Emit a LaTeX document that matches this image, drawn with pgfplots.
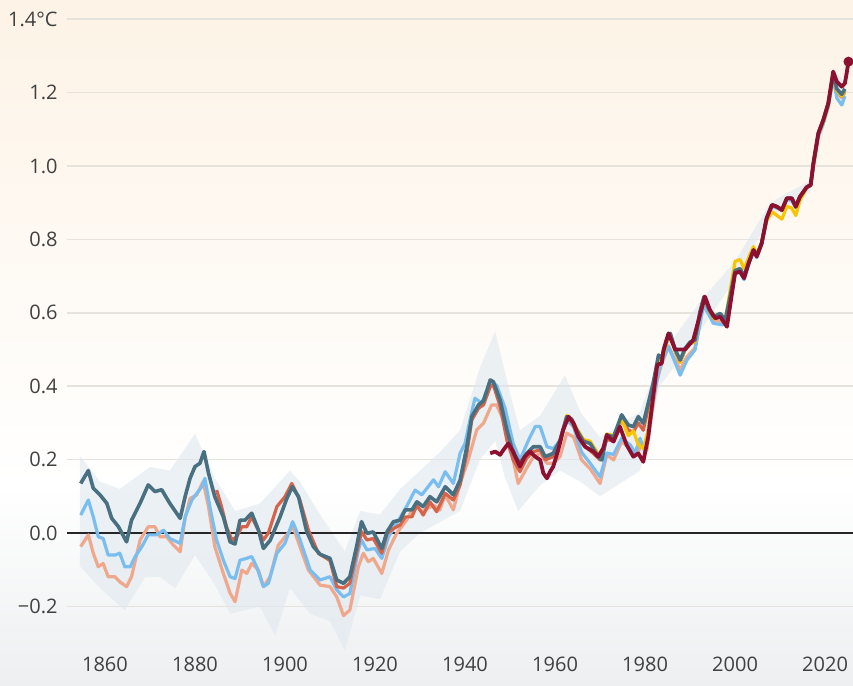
\documentclass[border=0pt]{standalone}
\usepackage{fontspec}
\setmainfont{Open Sans}
\usepackage{pgfplots}
\pgfplotsset{compat=1.18}
\definecolor{bgtop}{HTML}{FDF3E6}
\definecolor{bgbot}{HTML}{EDEFF0}
\definecolor{gridcol}{HTML}{E6E2DC}
\definecolor{textcol}{HTML}{404040}
\definecolor{tealc}{HTML}{487080}
\definecolor{lblue}{HTML}{7ABEF0}
\definecolor{salmon}{HTML}{F0A88C}
\definecolor{redor}{HTML}{D6644B}
\definecolor{yel}{HTML}{FAC400}
\definecolor{dred}{HTML}{8C1030}
\definecolor{band}{HTML}{DFE8EF}
\begin{document}
\begin{tikzpicture}
\useasboundingbox (0,0) rectangle (426.5pt,343pt);
\shade[top color=bgtop, bottom color=white] (0,100pt) rectangle (426.5pt,343pt);
\shade[top color=white, bottom color=bgbot] (0,0) rectangle (426.5pt,100.2pt);
\begin{axis}[
  at={(33.5pt,20.5pt)}, anchor=south west,
  width=393pt, height=322.5pt, scale only axis,
  xmin=1851.56, xmax=2026.2, ymin=-0.305, ymax=1.452,
  axis line style={draw=none}, major tick length=0pt,
  clip=false,
  xtick={1860,1880,1900,1920,1940,1960,1980,2000,2020},
  xticklabels={1860,1880,1900,1920,1940,1960,1980,2000,2020},
  ytick={-0.2,0,0.2,0.4,0.6,0.8,1.0,1.2,1.4},
  yticklabels={−0.2,0.0,0.2,0.4,0.6,0.8,1.0,1.2,1.4°C},
  ymajorgrids, grid style={gridcol, line width=0.75pt},
  tick label style={font=\fontsize{10}{12}\selectfont, text=textcol},
  yticklabel style={anchor=east, inner sep=0pt, xshift=-4.5pt},
  xticklabel style={anchor=north, inner sep=0pt, yshift=-6pt},
]
% uncertainty band (upper edge, then lower edge reversed)
\addplot[fill=band, fill opacity=0.6, draw=none] coordinates {(1854.4,0.21)(1858.9,0.14)(1863.3,0.12)(1870,0.18)(1874.4,0.17)(1880,0.27)(1884.4,0.15)(1888.9,0.06)(1894.4,0.08)(1901.1,0.17)(1903.3,0.14)(1907.8,0.05)(1913.3,-0.05)(1916.7,0.06)(1921.1,0.05)(1925.6,0.12)(1930,0.17)(1934.4,0.22)(1938.9,0.28)(1943.3,0.45)(1946.7,0.55)(1950,0.38)(1952.2,0.28)(1956.7,0.32)(1962.2,0.43)(1965.6,0.33)(1970,0.26)(1978.9,0.33)(1983.3,0.48)(1992.2,0.63)(2000,0.74)(2007.8,0.9)(2016.7,0.96)(2021.8,1.26)(2024.4,1.23)
(2024.4,1.16)(2021.8,1.22)(2016.7,0.93)(2007.8,0.86)(2000,0.69)(1992.2,0.55)(1983.3,0.4)(1978.9,0.17)(1970,0.1)(1965.6,0.14)(1961.1,0.17)(1956.7,0.13)(1951.8,0.06)(1948.9,0.15)(1946.7,0.25)(1943.3,0.2)(1938.9,0.06)(1934.4,0.03)(1930,0.0)(1925.6,-0.05)(1921.1,-0.18)(1916.7,-0.17)(1913.3,-0.32)(1910,-0.24)(1905.6,-0.22)(1901.1,-0.15)(1897.8,-0.28)(1894.4,-0.2)(1887.8,-0.22)(1884.4,-0.14)(1880,-0.06)(1875.6,-0.15)(1872.2,-0.12)(1868.9,-0.12)(1864.4,-0.21)(1858.9,-0.15)(1854.4,-0.09)} -- cycle;
% zero line
\addplot[black!85, line width=0.6pt] coordinates {(1851.56,0)(2026.2,0)};
% salmon
\addplot[salmon, line width=1.6pt, line join=round] coordinates {(1854.6,-0.037)(1856.3,-0.005)(1857.4,-0.055)(1858.5,-0.092)(1859.6,-0.083)(1860.7,-0.119)(1862.2,-0.119)(1863.3,-0.133)(1864.8,-0.146)(1865.9,-0.119)(1867.8,-0.019)(1869.6,0.017)(1871.1,0.017)(1872.2,-0.01)(1873.7,-0.01)(1875.2,-0.033)(1876.7,-0.051)(1877.8,0.04)(1878.9,0.094)(1880.4,0.104)(1881.8,0.14)(1883.0,0.072)(1884.4,-0.037)(1886.3,-0.11)(1887.8,-0.164)(1888.9,-0.187)(1890.4,-0.101)(1891.5,-0.11)(1892.6,-0.083)(1894.1,-0.101)(1895.2,-0.146)(1896.7,-0.119)(1898.5,-0.033)(1900.4,-0.005)(1901.8,0.017)(1903.3,-0.037)(1905.2,-0.101)(1907.8,-0.142)(1910.0,-0.146)(1911.5,-0.174)(1913.0,-0.225)(1914.4,-0.21)(1916.3,-0.092)(1917.4,-0.055)(1918.5,-0.078)(1919.6,-0.069)(1921.5,-0.11)(1923.0,-0.046)(1924.8,-0.001)(1927.0,0.035)(1928.9,0.076)(1930.4,0.058)(1933.0,0.076)(1934.4,0.063)(1935.6,0.104)(1937.4,0.063)(1938.9,0.135)(1940.7,0.199)(1942.6,0.281)(1944.1,0.299)(1945.9,0.349)(1947.0,0.349)(1948.9,0.299)(1950.7,0.199)(1951.8,0.135)(1953.7,0.177)(1955.2,0.208)(1956.7,0.217)(1958.2,0.19)(1959.6,0.19)(1961.1,0.208)(1962.6,0.272)(1964.1,0.262)(1965.9,0.199)(1967.8,0.175)(1970.0,0.135)(1971.5,0.213)(1973.0,0.199)(1974.8,0.249)(1976.7,0.231)(1978.15,0.213)(1979.3,0.244)(1980.4,0.226)(1981.5,0.326)(1982.6,0.412)(1983.7,0.462)(1985.2,0.51)(1986.3,0.48)(1987.8,0.445)(1989.3,0.48)(1991.1,0.505)(1993.0,0.625)(1995.2,0.58)(1997.4,0.575)(1998.5,0.595)(2000.0,0.712)(2001.1,0.72)(2002.0,0.7)(2003.0,0.735)(2004.1,0.772)(2004.8,0.755)(2005.9,0.79)(2007.0,0.855)(2008.2,0.89)(2009.3,0.888)(2010.4,0.878)(2011.5,0.91)(2012.6,0.91)(2013.5,0.888)(2014.4,0.915)(2015.9,0.942)(2016.8,0.95)(2017.4,1.005)(2018.5,1.085)(2019.6,1.12)(2020.7,1.165)(2021.8,1.245)(2022.6,1.2)(2023.7,1.185)(2024.4,1.2)};
% light blue
\addplot[lblue, line width=1.6pt, line join=round] coordinates {(1854.6,0.049)(1856.3,0.09)(1857.4,0.044)(1858.5,-0.01)(1859.6,-0.015)(1860.7,-0.06)(1862.2,-0.06)(1863.3,-0.055)(1864.4,-0.092)(1865.6,-0.092)(1866.7,-0.064)(1868.2,-0.037)(1869.6,-0.005)(1871.5,-0.005)(1873.0,0.008)(1874.4,-0.015)(1876.7,-0.028)(1877.8,0.044)(1879.3,0.09)(1880.4,0.108)(1881.5,0.126)(1882.2,0.149)(1883.3,0.072)(1884.8,-0.019)(1886.3,-0.074)(1887.8,-0.119)(1888.9,-0.124)(1890.0,-0.074)(1891.5,-0.069)(1892.6,-0.064)(1893.7,-0.092)(1895.2,-0.146)(1896.3,-0.137)(1898.2,-0.055)(1900.0,-0.028)(1901.7,0.031)(1903.3,-0.017)(1905.6,-0.101)(1907.8,-0.128)(1910.0,-0.119)(1911.5,-0.155)(1913.0,-0.174)(1914.4,-0.165)(1916.3,-0.046)(1917.0,-0.019)(1918.2,-0.046)(1920.0,-0.042)(1921.5,-0.069)(1923.0,-0.01)(1924.8,0.026)(1927.0,0.072)(1928.9,0.117)(1930.4,0.104)(1933.0,0.145)(1934.1,0.126)(1935.6,0.167)(1937.4,0.135)(1938.9,0.217)(1940.0,0.244)(1941.1,0.308)(1942.2,0.367)(1943.7,0.354)(1945.6,0.408)(1947.0,0.403)(1948.9,0.34)(1950.7,0.244)(1952.2,0.199)(1954.1,0.253)(1955.6,0.29)(1956.7,0.29)(1958.2,0.235)(1959.6,0.23)(1961.1,0.25)(1962.6,0.308)(1964.1,0.29)(1965.9,0.22)(1967.8,0.19)(1970.0,0.153)(1971.5,0.218)(1973.0,0.214)(1974.8,0.258)(1976.7,0.24)(1977.8,0.218)(1978.9,0.258)(1980.0,0.218)(1981.1,0.317)(1982.2,0.39)(1983.3,0.453)(1985.2,0.507)(1986.3,0.476)(1987.8,0.43)(1989.3,0.471)(1991.1,0.499)(1993.0,0.621)(1995.2,0.571)(1997.4,0.567)(1998.5,0.589)(2000.0,0.708)(2001.1,0.71)(2002.0,0.69)(2003.0,0.73)(2004.1,0.77)(2004.8,0.75)(2005.9,0.785)(2007.0,0.85)(2008.2,0.89)(2009.3,0.885)(2010.4,0.88)(2011.5,0.91)(2012.6,0.905)(2013.5,0.885)(2014.4,0.915)(2015.9,0.94)(2016.8,0.95)(2017.4,1.0)(2018.5,1.08)(2019.6,1.115)(2020.7,1.16)(2021.8,1.24)(2022.6,1.185)(2023.7,1.166)(2024.4,1.19)};
% red-orange
\addplot[redor, line width=1.6pt, line join=round] coordinates {(1884.8,0.117)(1885.9,0.072)(1887.0,0.017)(1888.2,-0.019)(1889.3,-0.01)(1890.4,0.017)(1891.5,0.017)(1892.6,0.044)(1893.7,0.017)(1895.2,-0.019)(1896.3,0)(1898.2,0.072)(1900.0,0.099)(1901.5,0.135)(1903.3,0.09)(1905.2,0.008)(1907.4,-0.055)(1910.0,-0.075)(1911.5,-0.146)(1913.0,-0.15)(1914.4,-0.137)(1915.9,-0.055)(1917.0,0.004)(1918.2,-0.019)(1919.6,-0.015)(1921.5,-0.055)(1922.7,-0.001)(1924.1,0.012)(1925.6,0.022)(1926.7,0.044)(1928.2,0.044)(1929.3,0.076)(1930.7,0.049)(1932.2,0.085)(1933.7,0.058)(1935.6,0.108)(1937.4,0.09)(1938.9,0.131)(1940.4,0.217)(1941.5,0.308)(1943.0,0.34)(1944.1,0.349)(1945.6,0.399)(1946.3,0.403)(1947.8,0.345)(1949.3,0.253)(1950.7,0.199)(1952.2,0.167)(1953.7,0.204)(1955.2,0.222)(1956.7,0.226)(1957.8,0.199)(1959.6,0.208)(1961.1,0.244)(1962.6,0.317)(1963.7,0.303)(1964.8,0.272)(1966.3,0.24)(1968.5,0.217)(1970.0,0.199)(1971.5,0.255)(1973.0,0.25)(1974.8,0.31)(1976.3,0.28)(1977.4,0.275)(1978.5,0.3)(1979.6,0.28)(1980.7,0.34)(1981.8,0.4)(1983.0,0.48)(1983.7,0.47)(1984.8,0.52)(1985.6,0.538)(1986.7,0.495)(1987.8,0.465)(1988.9,0.5)(1990.0,0.515)(1991.1,0.522)(1992.2,0.6)(1993.1,0.64)(1994.1,0.61)(1995.2,0.585)(1996.7,0.595)(1997.8,0.578)(1998.9,0.642)(2000.0,0.713)(2001.1,0.718)(2002.0,0.698)(2003.0,0.733)(2004.1,0.77)(2004.8,0.753)(2005.9,0.788)(2007.0,0.856)(2008.2,0.892)(2009.3,0.888)(2010.4,0.879)(2011.5,0.911)(2012.6,0.911)(2013.5,0.888)(2014.4,0.915)(2015.9,0.941)(2016.8,0.948)(2017.4,1.006)(2018.5,1.088)(2019.6,1.124)(2020.7,1.168)(2021.8,1.248)(2022.6,1.205)(2023.7,1.19)(2024.4,1.205)};
% yellow
\addplot[yel, line width=1.6pt, line join=round] coordinates {(1961.1,0.25)(1962.6,0.32)(1963.7,0.31)(1964.8,0.285)(1966.3,0.255)(1967.8,0.25)(1969.6,0.215)(1970.4,0.205)(1971.5,0.27)(1973.0,0.265)(1974.8,0.31)(1976.3,0.265)(1977.4,0.278)(1978.5,0.24)(1979.6,0.23)(1980.7,0.28)(1981.8,0.38)(1983.0,0.47)(1983.7,0.465)(1984.8,0.52)(1985.6,0.54)(1986.7,0.495)(1987.8,0.465)(1988.9,0.5)(1990.0,0.515)(1991.1,0.522)(1992.2,0.6)(1993.1,0.64)(1994.1,0.61)(1995.2,0.585)(1996.7,0.595)(1997.8,0.58)(1998.9,0.66)(2000.0,0.74)(2001.1,0.745)(2002.0,0.72)(2003.0,0.75)(2004.1,0.78)(2004.8,0.76)(2005.9,0.79)(2007.0,0.85)(2008.2,0.875)(2009.3,0.865)(2010.4,0.855)(2011.5,0.89)(2012.6,0.885)(2013.5,0.865)(2014.4,0.905)(2015.9,0.94)(2016.8,0.948)(2017.4,1.0)(2018.5,1.085)(2019.6,1.12)(2020.7,1.165)(2021.8,1.245)(2022.6,1.205)(2023.7,1.19)(2024.4,1.205)};
% teal
\addplot[tealc, line width=1.8pt, line join=round] coordinates {(1854.6,0.135)(1856.3,0.17)(1857.4,0.122)(1858.9,0.104)(1860.4,0.081)(1861.5,0.04)(1863.0,0.017)(1864.8,-0.024)(1865.9,0.035)(1867.8,0.081)(1869.6,0.131)(1871.1,0.113)(1872.6,0.118)(1874.4,0.081)(1876.7,0.04)(1877.8,0.099)(1878.9,0.149)(1880.0,0.181)(1881.1,0.19)(1882.0,0.222)(1883.0,0.163)(1884.4,0.099)(1886.3,0.044)(1887.8,-0.024)(1888.9,-0.03)(1890.0,0.035)(1891.1,0.035)(1892.6,0.054)(1894.1,0.008)(1895.2,-0.042)(1896.7,-0.02)(1898.9,0.044)(1900.4,0.094)(1901.6,0.126)(1903.0,0.099)(1904.8,0.005)(1906.3,-0.037)(1907.8,-0.058)(1910.0,-0.069)(1911.5,-0.128)(1913.0,-0.137)(1914.4,-0.119)(1915.9,-0.037)(1917.0,0.031)(1918.2,-0.001)(1919.6,0.003)(1921.5,-0.042)(1922.7,0.004)(1924.1,0.031)(1925.6,0.035)(1926.7,0.063)(1928.2,0.063)(1929.3,0.085)(1930.7,0.072)(1932.2,0.099)(1933.7,0.085)(1935.6,0.126)(1937.4,0.104)(1938.9,0.144)(1940.4,0.235)(1941.5,0.317)(1943.0,0.349)(1944.1,0.36)(1945.6,0.417)(1946.3,0.412)(1947.8,0.362)(1949.3,0.281)(1950.7,0.217)(1952.2,0.19)(1953.7,0.217)(1955.2,0.235)(1956.7,0.235)(1957.8,0.208)(1959.6,0.217)(1961.1,0.253)(1962.6,0.317)(1963.7,0.31)(1964.8,0.281)(1966.3,0.25)(1967.8,0.244)(1969.6,0.208)(1970.4,0.199)(1971.5,0.267)(1973.0,0.262)(1974.8,0.322)(1976.3,0.294)(1977.4,0.29)(1978.5,0.317)(1979.6,0.299)(1980.7,0.353)(1981.8,0.408)(1983.0,0.485)(1983.7,0.476)(1984.8,0.526)(1985.6,0.544)(1986.7,0.499)(1987.8,0.471)(1988.9,0.503)(1990.0,0.52)(1991.1,0.526)(1992.2,0.603)(1993.1,0.644)(1994.1,0.612)(1995.2,0.589)(1996.7,0.598)(1997.8,0.58)(1998.9,0.644)(2000.0,0.715)(2001.1,0.72)(2002.0,0.70)(2003.0,0.735)(2004.1,0.771)(2004.8,0.755)(2005.9,0.789)(2007.0,0.857)(2008.2,0.894)(2009.3,0.889)(2010.4,0.88)(2011.5,0.912)(2012.6,0.912)(2013.5,0.889)(2014.4,0.916)(2015.9,0.942)(2016.8,0.948)(2017.4,1.007)(2018.5,1.089)(2019.6,1.125)(2020.7,1.17)(2021.8,1.25)(2022.6,1.21)(2023.7,1.195)(2024.4,1.21)};
% dark red
\addplot[dred, line width=1.9pt, line join=round] coordinates {(1945.6,0.217)(1946.7,0.222)(1947.8,0.213)(1948.5,0.226)(1949.6,0.244)(1950.7,0.222)(1951.5,0.199)(1952.2,0.181)(1953.3,0.208)(1954.4,0.222)(1955.6,0.208)(1956.7,0.199)(1957.4,0.163)(1958.2,0.149)(1958.9,0.167)(1959.6,0.181)(1960.7,0.226)(1961.8,0.281)(1963.0,0.317)(1964.1,0.299)(1965.2,0.262)(1966.7,0.235)(1968.5,0.222)(1969.6,0.208)(1970.7,0.231)(1971.5,0.267)(1973.0,0.249)(1974.4,0.29)(1975.9,0.24)(1977.4,0.208)(1978.5,0.217)(1979.6,0.194)(1980.7,0.262)(1981.8,0.372)(1982.7,0.458)(1983.7,0.462)(1984.1,0.499)(1985.2,0.544)(1986.7,0.5)(1988.9,0.5)(1990.7,0.526)(1993.3,0.644)(1994.4,0.608)(1995.6,0.585)(1996.7,0.589)(1998.2,0.562)(1999.3,0.653)(2000.0,0.708)(2001.1,0.712)(2002.0,0.694)(2003.0,0.735)(2004.1,0.771)(2004.8,0.753)(2005.9,0.789)(2007.0,0.857)(2008.2,0.894)(2009.3,0.889)(2010.4,0.88)(2011.5,0.912)(2012.6,0.912)(2013.5,0.889)(2014.4,0.916)(2015.9,0.942)(2016.8,0.948)(2017.4,1.007)(2018.5,1.089)(2019.6,1.125)(2020.7,1.17)(2021.8,1.257)(2022.6,1.23)(2023.7,1.216)(2024.4,1.225)(2024.8,1.253)(2025.2,1.284)};
\addplot[dred, only marks, mark=*, mark size=2.3pt] coordinates {(2025.2,1.284)};
\end{axis}
\end{tikzpicture}
\end{document}
